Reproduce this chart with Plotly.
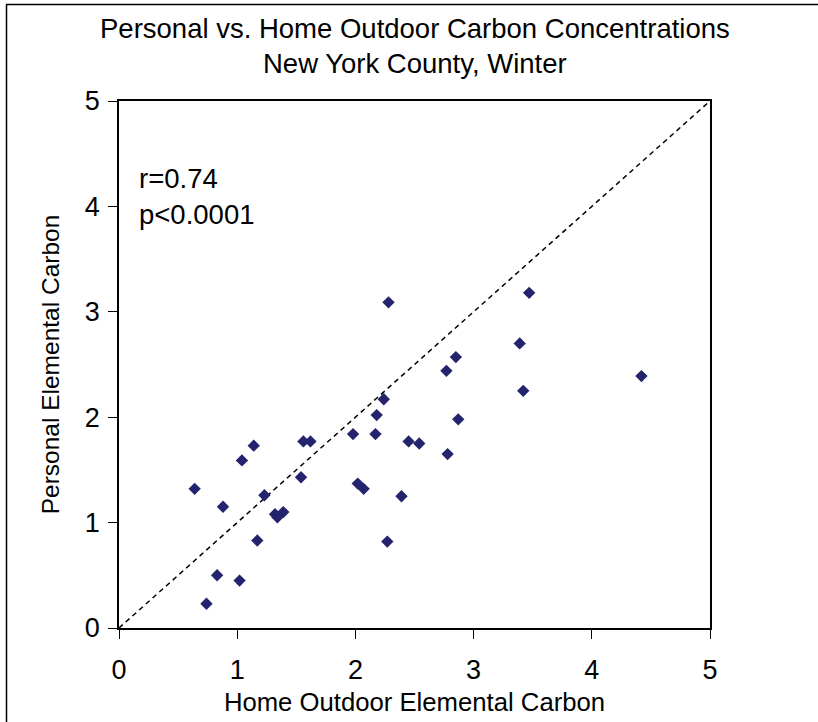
import plotly.graph_objects as go

# Home outdoor vs. personal elemental carbon, New York County (winter)
home_outdoor_ec = [0.64, 0.74, 0.83, 0.88, 1.02, 1.04, 1.14, 1.17, 1.23, 1.32,
                   1.34, 1.39, 1.54, 1.56, 1.62, 1.98, 2.02, 2.07, 2.17, 2.18,
                   2.24, 2.27, 2.28, 2.39, 2.45, 2.54, 2.77, 2.78, 2.85, 2.87,
                   3.39, 3.42, 3.47, 4.42]
personal_ec = [1.32, 0.23, 0.50, 1.15, 0.45, 1.59, 1.73, 0.83, 1.26, 1.08,
               1.05, 1.10, 1.43, 1.77, 1.77, 1.84, 1.37, 1.32, 1.84, 2.02,
               2.17, 0.82, 3.09, 1.25, 1.77, 1.75, 2.44, 1.65, 2.57, 1.98,
               2.70, 2.25, 3.18, 2.39]

# 1:1 reference line
identity_line = [0, 5]
tick_vals = [0, 1, 2, 3, 4, 5]

title_lines = ["Personal vs. Home Outdoor Carbon Concentrations",
               "New York County, Winter"]
stats_text = "r=0.74<br>p<0.0001"

W, H = 818, 722
ML, MR, MT, MB = 119, 108, 101, 94
PW, PH = W - ML - MR, H - MT - MB


def px_x(px):
    return (px - ML) / PW


def px_y(py):
    return (H - MB - py) / PH


FONT = "Liberation Sans, Arial, sans-serif"

fig = go.Figure()
fig.add_trace(go.Scatter(
    x=identity_line, y=identity_line, mode="lines",
    line=dict(color="black", width=1.5, dash="5px,4px"),
    hoverinfo="skip", showlegend=False,
))
fig.add_trace(go.Scatter(
    x=home_outdoor_ec, y=personal_ec, mode="markers",
    marker=dict(symbol="diamond", size=9.5, color="#24246e",
                line=dict(width=0)),
    showlegend=False,
))

axis_common = dict(
    range=[0, 5], tickvals=tick_vals, showgrid=False, zeroline=False,
    showline=True, linecolor="black", linewidth=1.5, mirror=True,
    ticks="outside", ticklen=9, tickcolor="black", tickwidth=1,
    tickfont=dict(family=FONT, size=27, color="black"),
    automargin=False,
)

fig.update_layout(
    width=W, height=H,
    margin=dict(l=ML, r=MR, t=MT, b=MB),
    paper_bgcolor="white", plot_bgcolor="white",
    xaxis=dict(**axis_common, ticklabelstandoff=8,
               title=dict(text="Home Outdoor Elemental Carbon",
                          font=dict(family=FONT, size=25.7, color="black"),
                          standoff=9)),
    yaxis=dict(**axis_common, ticklabelstandoff=3,
               title=dict(text="Personal Elemental Carbon",
                          font=dict(family=FONT, size=24.5, color="black"),
                          standoff=18)),
    annotations=[
        dict(text=title_lines[0], x=0.5, y=px_y(29), xref="paper", yref="paper",
             xanchor="center", yanchor="middle", showarrow=False,
             font=dict(family=FONT, size=27.5, color="black")),
        dict(text=title_lines[1], x=0.5, y=px_y(64), xref="paper", yref="paper",
             xanchor="center", yanchor="middle", showarrow=False,
             font=dict(family=FONT, size=27.5, color="black")),
        dict(text=stats_text, x=px_x(137), y=px_y(196), xref="paper", yref="paper",
             xanchor="left", yanchor="middle", align="left", showarrow=False,
             font=dict(family=FONT, size=27.5, color="black")),
    ],
    shapes=[
        # outer chart frame (top and left edges)
        dict(type="line", xref="paper", yref="paper",
             x0=px_x(6), x1=px_x(W + 5), y0=px_y(4.5), y1=px_y(4.5),
             line=dict(color="black", width=1.5)),
        dict(type="line", xref="paper", yref="paper",
             x0=px_x(6.5), x1=px_x(6.5), y0=px_y(4.5), y1=px_y(H + 5),
             line=dict(color="black", width=1.5)),
    ],
)

fig.write_html("out.html")
